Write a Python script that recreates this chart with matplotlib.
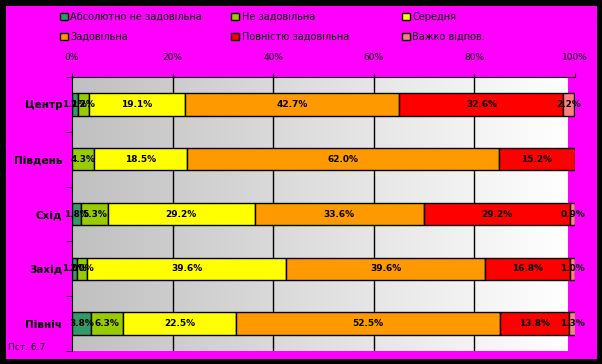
import numpy as np
import matplotlib.pyplot as plt
from matplotlib.patches import Rectangle
from matplotlib.colors import LinearSegmentedColormap

regions = ["Центр", "Південь", "Схід", "Захід", "Північ"]
series = ["Абсолютно не задовільна", "Не задовільна", "Середня",
          "Задовільна", "Повністю задовільна", "Важко відпов."]
absolutely_bad = [1.1, 0.0, 1.8, 1.0, 3.8]
bad = [2.2, 4.3, 5.3, 2.0, 6.3]
average = [19.1, 18.5, 29.2, 39.6, 22.5]
good = [42.7, 62.0, 33.6, 39.6, 52.5]
fully_good = [32.6, 15.2, 29.2, 16.8, 13.8]
hard_to_say = [2.2, 0.0, 0.9, 1.0, 1.3]
colors = ["#339966", "#99CC00", "#FFFF00", "#FF9900", "#FF0000", "#FF8080"]
ticks = [0, 20, 40, 60, 80, 100]

W, H = 602, 364
fig = plt.figure(figsize=(W / 100, H / 100), dpi=100, facecolor="black")
fig.patches.append(Rectangle((6 / W, 5 / H), 591 / W, 353 / H, transform=fig.transFigure,
                             facecolor="#FF00FF", edgecolor="none", zorder=-10))

ax = fig.add_axes([72 / W, 1 - 351 / H, 503 / W, 274 / H])
ax.set_facecolor("none")

# grey-to-white gradient behind the bars
grad = LinearSegmentedColormap.from_list("g", ["#C0C0C0", "#FFFFFF"])
ax.imshow(np.linspace(0, 1, 256).reshape(1, -1), cmap=grad, aspect="auto",
          extent=[0, 98.5, 4.5, -0.5], zorder=0)

y = np.arange(len(regions))
data = [absolutely_bad, bad, average, good, fully_good, hard_to_say]
left = np.zeros(len(regions))
for vals, col, name in zip(data, colors, series):
    vals = np.array(vals)
    ax.barh(y, vals, left=left, height=0.41, color=col, edgecolor="black",
            linewidth=1, label=name, zorder=3)
    for yi, l, v in zip(y, left, vals):
        if v > 0:
            ax.text(l + v / 2, yi, f"{v:.1f}%", ha="center", va="center",
                    fontsize=6.5, fontweight="bold", color="black", zorder=4)
    left += vals

for t in ticks[1:-1]:
    ax.axvline(t, color="black", linewidth=1, zorder=1)

ax.set_xlim(0, 100)
ax.set_ylim(4.5, -0.5)
ax.xaxis.tick_top()
ax.set_xticks(ticks)
ax.set_xticklabels([f"{t}%" for t in ticks], fontsize=6.5)
ax.tick_params(axis="x", length=3, pad=8, color="black")
ax.set_yticks(y)
ax.set_yticklabels(regions, fontsize=7.5, fontweight="bold")
ax.set_yticks(np.arange(-0.5, 5, 1), minor=True)
ax.tick_params(axis="y", which="major", length=0, pad=7)
ax.tick_params(axis="y", which="minor", length=4, color="black")
for s in ["right", "bottom"]:
    ax.spines[s].set_visible(False)
ax.spines["left"].set_color("black")
ax.spines["top"].set_color("black")

# legend: three columns of two entries each
handles, labels = ax.get_legend_handles_labels()
for col, x0 in enumerate([53, 224, 395]):
    idx = [col, col + 3]
    fig.legend([handles[i] for i in idx], [labels[i] for i in idx],
               loc="upper left", bbox_to_anchor=(x0 / W, 1 - 5 / H),
               frameon=False, fontsize=7, handlelength=0.8, handleheight=0.8,
               handletextpad=0.3, labelspacing=1.05, borderpad=0.2)

fig.text(8 / W, 1 - 348 / H, "Пст. 6.7", fontsize=6.5, va="center", ha="left")

fig.savefig("out.png", dpi=100, facecolor="black")
